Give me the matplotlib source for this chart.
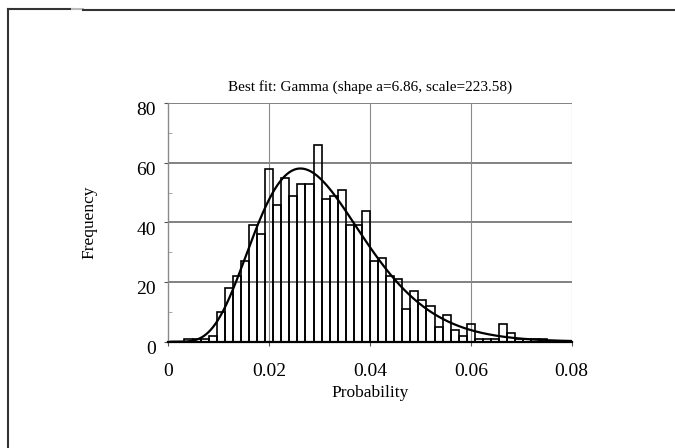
import math
import numpy as np
import matplotlib
matplotlib.use("Agg")
import matplotlib.pyplot as plt
from matplotlib.lines import Line2D
from matplotlib.transforms import ScaledTranslation

# histogram: 50 bins of width 0.0016 on [0, 0.08]
bin_width = 0.0016
counts = [0, 0, 1, 1, 1, 2, 10, 18, 22, 27,
          39, 36, 58, 46, 55, 49, 53, 53, 66, 48,
          49, 51, 39, 39, 44, 27, 28, 22, 21, 11,
          17, 14, 12, 5, 9, 4, 2, 6, 1, 1,
          1, 6, 3, 1, 1, 1, 1, 0, 0, 0]
n_samples = 1000

# fitted gamma (a = shape, "scale" acts as rate here)
shape_a = 6.86
rate = 223.58

x_ticks = [0, 0.02, 0.04, 0.06, 0.08]
x_tick_labels = ["0", "0.02", "0.04", "0.06", "0.08"]
y_ticks = [0, 20, 40, 60, 80]

plt.rcParams["font.family"] = ["Liberation Serif", "DejaVu Serif"]

W, H = 675, 448
fig = plt.figure(figsize=(W / 100, H / 100), dpi=100)
left, right, top, bottom = 168.3, 571.7, 103.3, 341.7
ax = fig.add_axes([left / W, 1 - bottom / H, (right - left) / W, (bottom - top) / H])

edges = np.arange(len(counts)) * bin_width
ax.bar(edges, counts, width=bin_width, align="edge", facecolor="none",
       edgecolor="black", linewidth=1.2, zorder=3)

xs = np.linspace(0.0005, 0.08, 500)
pdf = np.exp(shape_a * np.log(rate) + (shape_a - 1) * np.log(xs) - rate * xs - math.lgamma(shape_a))
ax.plot(xs, n_samples * bin_width * pdf, color="black", linewidth=1.6, zorder=4)

ax.set_xlim(0, 0.08)
ax.set_ylim(0, 80)

# grid
for yv in y_ticks[1:]:
    ax.axhline(yv, color="#777777", linewidth=1.3, zorder=1)
for xv in x_ticks[1:]:
    ax.axvline(xv, color="#8a8a8a", linewidth=0.8, zorder=1)

for side in ["top", "right"]:
    ax.spines[side].set_visible(False)
ax.spines["left"].set_color("#8a8a8a")
ax.spines["left"].set_linewidth(1.0)
ax.spines["bottom"].set_color("black")
ax.spines["bottom"].set_linewidth(1.6)

ax.set_xticks(x_ticks)
ax.set_xticklabels(x_tick_labels)
ax.set_yticks(y_ticks)
ax.set_yticks([10, 30, 50, 70], minor=True)
ax.tick_params(axis="x", which="major", direction="out", length=3, pad=12,
               labelsize=14, color="#555555")
ax.tick_params(axis="y", which="major", direction="out", length=3, pad=6,
               labelsize=14, color="#555555")
ax.tick_params(axis="y", which="minor", direction="in", length=3, color="#999999")

shift = ScaledTranslation(0, -4 / 72, fig.dpi_scale_trans)
for lab in ax.get_yticklabels():
    lab.set_transform(lab.get_transform() + shift)

ax.set_title("Best fit: Gamma (shape a=6.86, scale=223.58)", fontsize=11, pad=9)
ax.set_xlabel("Probability", fontsize=12.5)
ax.set_ylabel("Frequency", fontsize=12.5)
ax.xaxis.set_label_coords(0.5, -0.183)
ax.yaxis.set_label_coords(-0.176, 0.5)

# scanned page frame
fig.add_artist(Line2D([8 / W, 72 / W], [1 - 9 / H, 1 - 9 / H], color="#333333", linewidth=1.5))
fig.add_artist(Line2D([72 / W, 83 / W], [1 - 9.5 / H, 1 - 9.5 / H], color="#bbbbbb", linewidth=1.5))
fig.add_artist(Line2D([83 / W, 1], [1 - 10 / H, 1 - 10 / H], color="#333333", linewidth=1.5))
fig.add_artist(Line2D([8 / W, 8 / W], [1 - 9 / H, 0], color="#333333", linewidth=1.5))

fig.savefig("out.png", dpi=100)
